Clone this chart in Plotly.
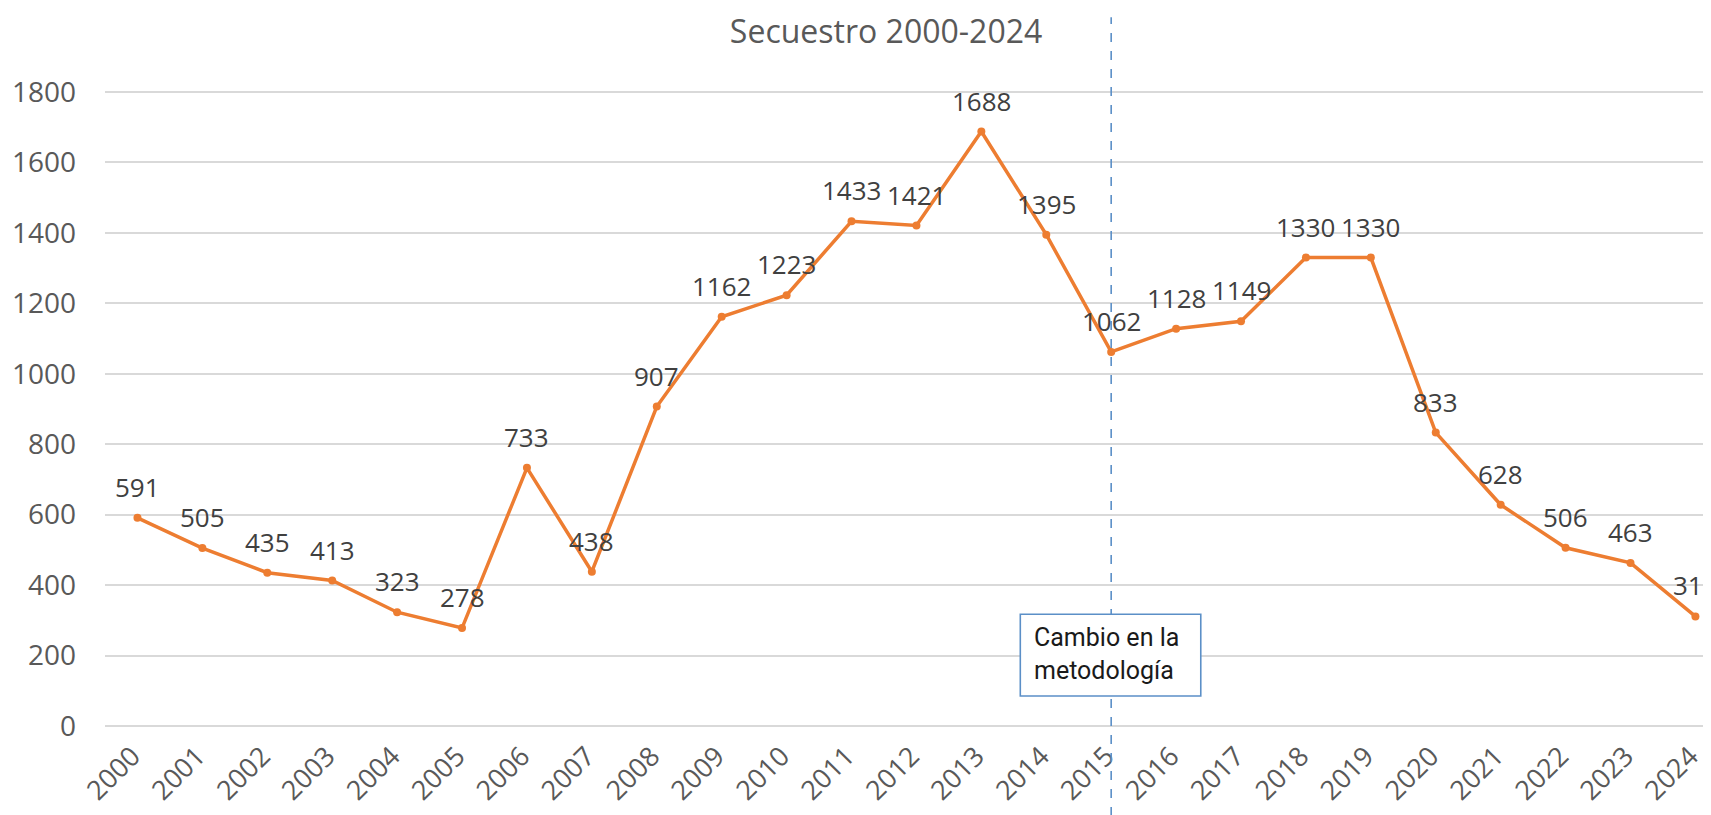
import plotly.graph_objects as go

years = [str(y) for y in range(2000, 2025)]
values = [591, 505, 435, 413, 323, 278, 733, 438, 907, 1162, 1223, 1433, 1421,
          1688, 1395, 1062, 1128, 1149, 1330, 1330, 833, 628, 506, 463, 311]
y_ticks = [0, 200, 400, 600, 800, 1000, 1200, 1400, 1600, 1800]
title_text = "Secuestro 2000-2024"
note_text = "Cambio en la<br>metodología"
change_year = "2015"

ORANGE = "#ED7D31"
GRAY = "#595959"
LABEL = "#404040"
BLUE = "#5B8FC7"
FONT = "Open Sans, Liberation Sans, sans-serif"

fig = go.Figure()
fig.add_trace(go.Scatter(
    x=list(range(len(years))), y=values, mode="lines+markers",
    line=dict(color=ORANGE, width=3.5),
    marker=dict(color=ORANGE, size=8),
    hoverinfo="y", showlegend=False,
))

annotations = []
for i, v in enumerate(values):
    annotations.append(dict(
        x=i, y=v, xref="x", yref="y", text=str(v), showarrow=False,
        yshift=31, font=dict(family=FONT, size=26, color=LABEL),
    ))

ci = years.index(change_year)
shapes = [
    dict(type="line", xref="x", yref="paper", x0=ci, x1=ci, y0=-0.14, y1=1.116,
         line=dict(color=BLUE, width=1.6, dash="dash"), layer="above"),
    dict(type="rect", xref="x", yref="y", x0=ci - 1.4, x1=ci + 1.38, y0=85, y1=317,
         fillcolor="white", line=dict(color=BLUE, width=1.6), layer="above"),
]
annotations.append(dict(
    x=ci - 1.22, y=204, xref="x", yref="y", xanchor="left", yanchor="middle",
    text=note_text, showarrow=False, align="left",
    font=dict(family="Roboto, Liberation Sans, sans-serif", size=25, color="#1a1a1a"),
))

fig.update_layout(
    width=1703, height=807,
    margin=dict(l=97, r=0, t=83, b=88),
    paper_bgcolor="white", plot_bgcolor="white",
    title=dict(text=title_text, x=0.5156, xref="container", xanchor="center",
               y=0.97, yref="container", yanchor="middle",
               font=dict(family=FONT, size=32, color=GRAY)),
    xaxis=dict(range=[-0.5, 24.24], tickvals=list(range(len(years))), ticktext=years,
               showgrid=False, zeroline=False, showline=False, tickangle=-45, ticks="",
               tickfont=dict(family=FONT, size=27, color=GRAY),
               ticklabelstandoff=7, ticklabelshift=-5),
    yaxis=dict(range=[-3, 1803], tickvals=y_ticks, showgrid=True, gridcolor="#D9D9D9",
               gridwidth=1.5, zeroline=False, showline=False, ticks="",
               tickfont=dict(family=FONT, size=28, color=GRAY), ticklabelstandoff=28),
    shapes=shapes, annotations=annotations,
)

fig.write_html("out.html")
